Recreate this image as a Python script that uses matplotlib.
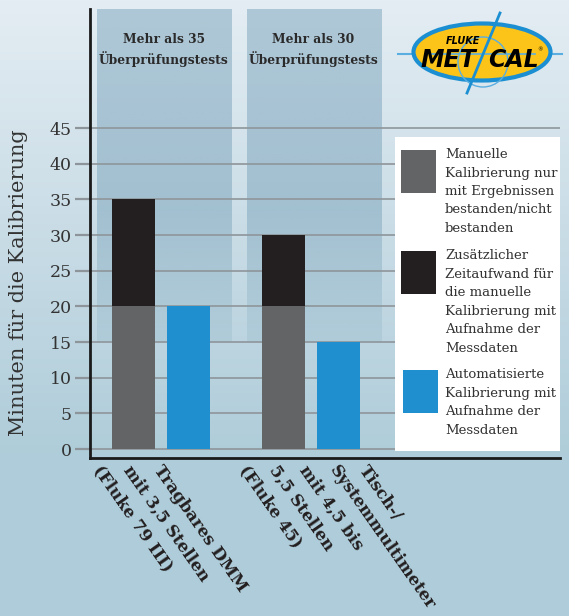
import numpy as np
import matplotlib
matplotlib.use("Agg")
import matplotlib.pyplot as plt
from matplotlib.patches import Rectangle, Ellipse, Circle

# data
categories = [
    ["Tragbares DMM", "mit 3,5 Stellen", "(Fluke 79 III)"],
    ["Tisch-/", "Systemmultimeter", "mit 4,5 bis", "5,5 Stellen", "(Fluke 45)"],
]
manual_basic = [20, 20]
manual_extra = [15, 10]
automated = [20, 15]
panel_text = ["Mehr als 35\nÜberprüfungstests", "Mehr als 30\nÜberprüfungstests"]
yticks = [0, 5, 10, 15, 20, 25, 30, 35, 40, 45]
legend_labels = [
    "Manuelle\nKalibrierung nur\nmit Ergebnissen\nbestanden/nicht\nbestanden",
    "Zusätzlicher\nZeitaufwand für\ndie manuelle\nKalibrierung mit\nAufnahme der\nMessdaten",
    "Automatisierte\nKalibrierung mit\nAufnahme der\nMessdaten",
]

GREY = "#636466"
BLACK = "#231f20"
BLUE = "#1f8fd0"
GRID = "#8e959a"
SERIF = "DejaVu Serif"

W, H = 569, 616
fig = plt.figure(figsize=(W / 100, H / 100), dpi=100)

# background gradient
bg = fig.add_axes([0, 0, 1, 1], zorder=0)
bg.axis("off")
top = np.array([228, 237, 243]) / 255
bot = np.array([174, 204, 217]) / 255
t = np.clip(np.linspace(0, 1, H) / 0.75, 0, 1)[:, None]
grad = (top * (1 - t) + bot * t)[:, None, :]
bg.imshow(grad, extent=[0, W, H, 0], aspect="auto")
bg.set_xlim(0, W)
bg.set_ylim(H, 0)

# main axes
ax = fig.add_axes([90 / W, 1 - 458 / H, 470 / W, 449 / H], zorder=1)
ax.patch.set_alpha(0)
x = np.arange(len(categories))
off, width = 0.183, 0.287
ylo, yhi = -1.26, 61.7
xlo, xhi = -0.4733, 2.66

# shaded panels behind groups
for i, txt in enumerate(panel_text):
    c = x[i] + 0.017
    n = 200
    s = np.linspace(0, 1, n)
    alpha = np.where(s < 0.6, 0.45, 0.45 - (s - 0.6) / 0.4 * 0.3)
    rgba = np.zeros((n, 1, 4))
    rgba[..., 0] = 111 / 255
    rgba[..., 1] = 155 / 255
    rgba[..., 2] = 181 / 255
    rgba[:, 0, 3] = alpha
    ax.imshow(rgba, extent=[c - 0.4467, c + 0.4467, 15, yhi], aspect="auto", zorder=0.5)
    ax.text(c, 55.9, txt, ha="center", va="center", fontsize=8.8,
            fontweight="bold", family=SERIF, color="#2a2a2a", linespacing=1.4)

ax.bar(x - off, manual_basic, width, color=GREY, zorder=3)
ax.bar(x - off, manual_extra, width, bottom=manual_basic, color=BLACK, zorder=3)
ax.bar(x + off, automated, width, color=BLUE, zorder=3)

ax.set_xlim(xlo, xhi)
ax.set_ylim(ylo, yhi)
ax.set_yticks(yticks)
ax.set_xticks([])
ax.yaxis.grid(True, color=GRID, lw=1.2, zorder=1)
ax.set_axisbelow(True)
ax.tick_params(axis="y", length=11, width=1.6, color=GRID, pad=2,
               labelsize=12.5, labelcolor="#333333")
for lab in ax.get_yticklabels():
    lab.set_family(SERIF)
for s in ["top", "right"]:
    ax.spines[s].set_visible(False)
for s in ["left", "bottom"]:
    ax.spines[s].set_linewidth(2.0)
    ax.spines[s].set_color("#1a1a1a")
ax.set_ylabel("Minuten für die Kalibrierung", family=SERIF, fontsize=15, color="#333333")
ax.yaxis.set_label_coords(-0.132, 0.39)

# rotated category labels, each line starts at the axis
starts = [0.02, 0.39]
for i, lines in enumerate(categories):
    for j, line in enumerate(lines):
        ax.text(x[i] + starts[i] - j * 0.2, -0.01, line,
                transform=ax.get_xaxis_transform(), rotation=-55,
                rotation_mode="anchor", ha="left", va="top",
                fontsize=12, fontweight="bold", family=SERIF, color="#231f20")

# overlay: legend + logo
ov = fig.add_axes([0, 0, 1, 1], zorder=3)
ov.axis("off")
ov.set_xlim(0, W)
ov.set_ylim(H, 0)

ov.add_patch(Rectangle((395, 137), 165, 314, facecolor="white", edgecolor="none"))
leg = [(GREY, 401, 150), (BLACK, 401, 251), (BLUE, 403, 370)]
for (col, lx, ly), lab in zip(leg, legend_labels):
    ov.add_patch(Rectangle((lx, ly), 35, 43, facecolor=col, edgecolor="none"))
    ov.text(445, ly - 2, lab, ha="left", va="top", fontsize=9.5, family=SERIF,
            color="#333333", linespacing=1.55)

# logo
ov.plot([398, 562], [54, 54], color="#5aaee0", lw=1.5, zorder=1)
ov.add_patch(Ellipse((482, 52), 137, 57, facecolor="#fcc419",
                     edgecolor="#1b8fd2", lw=3, zorder=2))
ov.add_patch(Circle((483, 62), 25, facecolor="none", edgecolor="#5aaee0", lw=1, zorder=3))
ov.plot([430, 535], [54, 54], color="#5aaee0", lw=1.2, zorder=3)
ov.text(463, 41, "FLUKE", ha="center", va="center", fontsize=7,
        fontweight="bold", style="italic", color="black", zorder=4)
ov.text(448, 60, "MET", ha="center", va="center", fontsize=17,
        fontweight="bold", style="italic", color="black", zorder=4)
ov.text(513, 60, "CAL", ha="center", va="center", fontsize=17,
        fontweight="bold", style="italic", color="black", zorder=4)
ov.text(540, 50, "®", ha="center", va="center", fontsize=4, color="black", zorder=4)
ov.plot([500, 467], [13, 93], color="#1b8fd2", lw=2, zorder=5)

fig.savefig("out.png", dpi=100)
